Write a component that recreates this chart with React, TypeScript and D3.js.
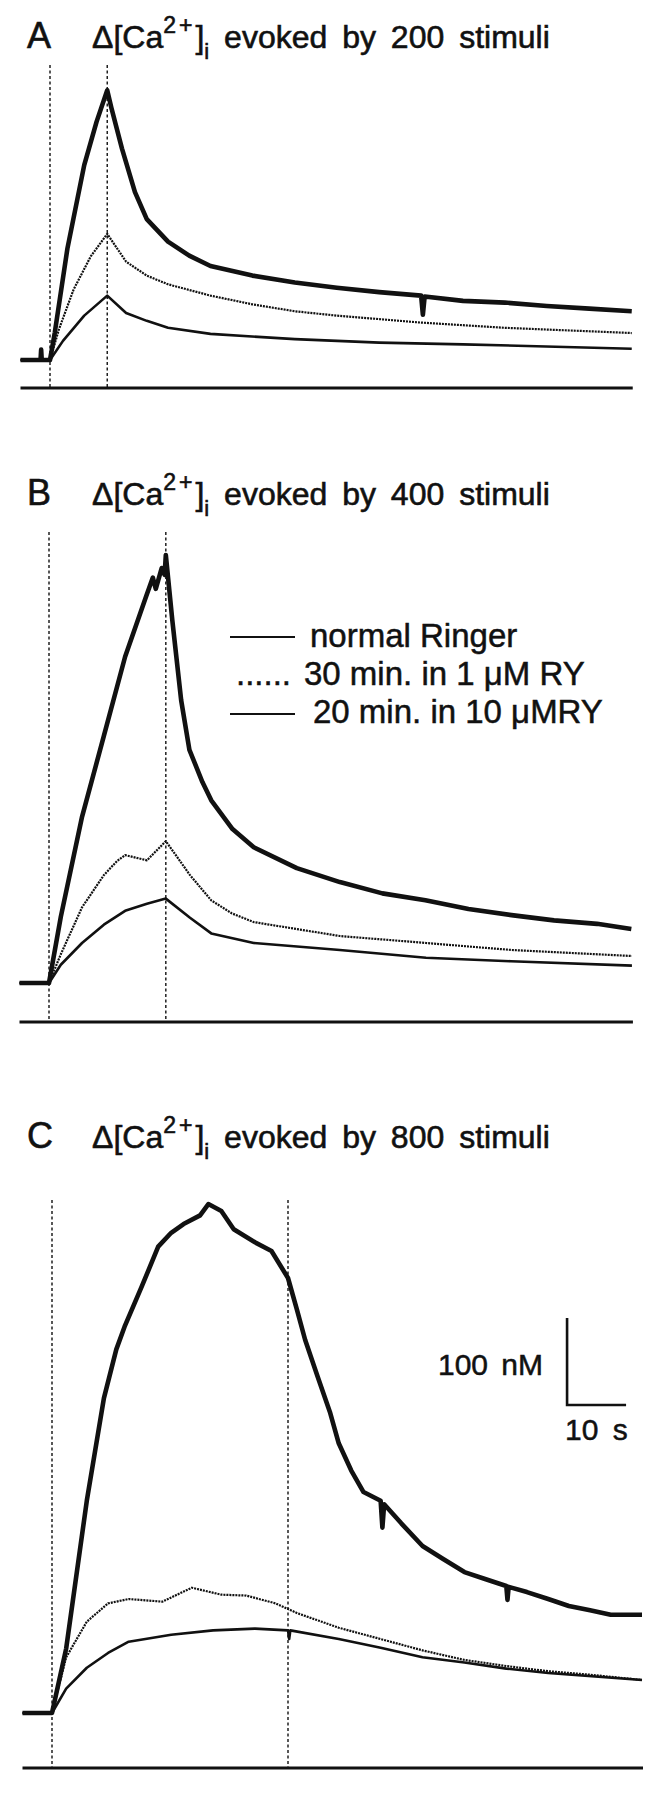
import React from 'react';
import * as d3 from 'd3';

// time (s after stimulus onset), Δ[Ca2+]i (nM)
const normalA: [number, number][] = [[-5, 0], [-1.6, 0], [-1.5, 12], [-1.4, 0], [0, 0], [0.8, 31], [2.95, 128], [5.8, 224], [7.9, 274], [9.7, 310], [10.4, 290], [12.2, 243], [14.4, 193], [16.4, 162], [20, 136], [23.6, 120], [27.2, 108], [34.3, 97], [41.5, 89], [48.6, 83], [55.8, 78], [62.9, 74], [63.2, 52], [63.5, 73], [70, 68], [77.1, 66], [84.2, 62], [91.4, 59], [98.6, 56]];
const ry1A: [number, number][] = [[-5, 0], [0, 0], [1.5, 35], [4, 81], [6.9, 119], [9.7, 145], [12.9, 113], [16.4, 97], [20, 87], [27.2, 74], [34.3, 64], [41.5, 56], [48.6, 51], [55.8, 47], [62.9, 43], [77.1, 37], [98.6, 31]];
const ry10A: [number, number][] = [[-5, 0], [0, 0], [2.2, 22], [5.8, 51], [9.7, 74], [12.9, 54], [16.4, 45], [20, 37], [27.2, 30], [41.5, 24], [55.8, 20], [70, 18], [98.6, 13]];

const normalB: [number, number][] = [[-5, 0], [0, 0], [2, 76], [5.6, 191], [9.3, 284], [12.9, 375], [16.5, 445], [17.6, 466], [18.1, 453], [19.1, 477], [19.6, 469], [19.8, 492], [20.9, 417], [22.4, 325], [23.8, 268], [26, 231], [27.5, 210], [31.1, 177], [34.7, 156], [42, 132], [49.3, 116], [56.5, 103], [63.8, 95], [71.1, 85], [78.4, 78], [85.6, 72], [92.9, 68], [98.7, 62]];
const ry1B: [number, number][] = [[-5, 0], [0, 0], [2, 33], [5.6, 87], [9.3, 124], [11.5, 140], [12.9, 147], [16.6, 141], [19.8, 163], [21.7, 145], [23.9, 124], [27.5, 95], [31, 80], [34.7, 70], [42, 62], [49.3, 54], [63.9, 46], [78.3, 38], [98.8, 31]];
const ry10B: [number, number][] = [[-5, 0], [0, 0], [2, 21], [5.6, 46], [9.3, 67], [12.9, 83], [16.6, 91], [19.8, 97], [23.9, 75], [27.5, 57], [34.7, 46], [49.3, 38], [63.9, 29], [78.3, 25], [98.8, 20]];

const normalC: [number, number][] = [[-5, 0], [0, 0], [2.4, 74], [5.9, 244], [8.8, 362], [10.9, 418], [12.3, 444], [15.2, 490], [18, 536], [20.2, 552], [22.3, 562], [25.1, 572], [26.5, 585], [28.7, 577], [30.8, 556], [34.4, 541], [37.2, 531], [40, 500], [41.5, 464], [42.9, 429], [45, 387], [47.1, 346], [48.6, 310], [50.7, 279], [52.8, 254], [55.7, 244], [56, 213], [56.3, 240], [59.2, 218], [62.8, 192], [66.3, 177], [69.9, 162], [73.4, 154], [77, 146], [77.2, 130], [77.4, 145], [80.5, 139], [84.1, 131], [87.6, 123], [91.2, 118], [94.7, 113], [100, 113]];
const ry1C: [number, number][] = [[-5, 0], [0, 0], [2.4, 64], [5.9, 105], [9.5, 126], [13, 131], [18.7, 128], [23.7, 144], [28.7, 136], [32.9, 135], [37.9, 126], [41.5, 115], [48.6, 98], [55.7, 85], [62.8, 72], [69.9, 61], [77, 54], [84.1, 48], [91.2, 44], [100, 38]];
const ry10C: [number, number][] = [[-5, 0], [0, 0], [2.4, 28], [5.9, 52], [9.5, 69], [13, 82], [20.2, 90], [27.3, 95], [34.4, 97], [40, 95], [40.2, 85], [40.4, 95], [48.6, 85], [55.7, 75], [62.8, 64], [69.9, 58], [77, 51], [84.1, 46], [100, 38]];

const panelLetters = ['A', 'B', 'C'];
const stimuliCounts = [200, 400, 800];
const stimEnds = [9.7, 19.8, 40]; // s, end of stimulus train
const traceEnds = [98.6, 98.8, 100];

const legendLabels = ['normal Ringer', '30 min. in 1 \u03bcM RY', '20 min. in 10 \u03bcMRY'];
const scaleBarNM = 100;
const scaleBarS = 10;

const FONT = '"Liberation Sans", Arial, Helvetica, sans-serif';
const INK = '#111';
const PX_PER_S = 5.9;
const PX_PER_NM = 0.87;

// layout for each panel (pixel position of t=0 / Δ=0, bottom rule, dashed top, title baseline)
const panels = [
  { x0: 50, y0: 360, bottom: 388, dashTop: 65, titleY: 48, traces: [normalA, ry1A, ry10A] },
  { x0: 49, y0: 983, bottom: 1022, dashTop: 532, titleY: 505, traces: [normalB, ry1B, ry10B] },
  { x0: 52, y0: 1713, bottom: 1768, dashTop: 1200, titleY: 1148, traces: [normalC, ry1C, ry10C] },
];

const traceStyles = [
  { width: 4.6, dash: undefined },
  { width: 2.2, dash: '2 1' },
  { width: 2.6, dash: undefined },
];

function Title({ y, letter, n }: { y: number; letter: string; n: number }) {
  return (
    <g fontFamily={FONT} fill={INK} stroke={INK} strokeWidth={0.6}>
      <text x={27} y={y} fontSize={36}>{letter}</text>
      <text x={92} y={y} fontSize={32}>
        Δ[Ca
        <tspan dy={-15} fontSize={23} letterSpacing={3}>2+</tspan>
        <tspan dy={15} fontSize={32}>]</tspan>
        <tspan dy={11} fontSize={22}>i</tspan>
        <tspan dy={-11} fontSize={32} wordSpacing={6}>{` evoked by ${n} stimuli`}</tspan>
      </text>
    </g>
  );
}

function Panel({ idx }: { idx: number }) {
  const p = panels[idx];
  const x = d3.scaleLinear().domain([0, 10]).range([p.x0, p.x0 + 10 * PX_PER_S]);
  const y = d3.scaleLinear().domain([0, 100]).range([p.y0, p.y0 - 100 * PX_PER_NM]);
  const line = d3.line<[number, number]>().x(d => x(d[0])).y(d => y(d[1]));

  return (
    <g>
      <Title y={p.titleY} letter={panelLetters[idx]} n={stimuliCounts[idx]} />
      {[0, stimEnds[idx]].map((t, i) => (
        <line key={i} x1={x(t)} x2={x(t)} y1={p.dashTop} y2={p.bottom}
          stroke={INK} strokeWidth={1.4} strokeDasharray="3 2.5" />
      ))}
      {p.traces.map((tr, i) => (
        <path key={i} d={line(tr) || ''} fill="none" stroke={INK}
          strokeWidth={traceStyles[i].width} strokeDasharray={traceStyles[i].dash}
          strokeLinejoin="round" />
      ))}
      <line x1={x(-5)} x2={x(traceEnds[idx]) + 1} y1={p.bottom} y2={p.bottom} stroke={INK} strokeWidth={2.8} />
    </g>
  );
}

function Legend() {
  return (
    <g fontFamily={FONT} fill={INK} fontSize={33} stroke={INK} strokeWidth={0.5}>
      <line x1={230} x2={295} y1={637} y2={637} stroke={INK} strokeWidth={2} />
      <text x={310} y={647}>{legendLabels[0]}</text>
      <text x={236} y={685}>......</text>
      <text x={304} y={685}>{legendLabels[1]}</text>
      <line x1={230} x2={295} y1={714} y2={714} stroke={INK} strokeWidth={2} />
      <text x={313} y={723}>{legendLabels[2]}</text>
    </g>
  );
}

function ScaleBar() {
  const p = panels[2];
  const x = d3.scaleLinear().domain([0, 10]).range([p.x0, p.x0 + 10 * PX_PER_S]);
  const y = d3.scaleLinear().domain([0, 100]).range([p.y0, p.y0 - 100 * PX_PER_NM]);
  const t0 = 87.3;
  const v0 = 354;
  return (
    <g fontFamily={FONT} fill={INK} fontSize={30}>
      <path d={`M${x(t0)},${y(v0 + scaleBarNM)}V${y(v0)}H${x(t0 + scaleBarS)}`}
        fill="none" stroke={INK} strokeWidth={2.6} />
      <g stroke={INK} strokeWidth={0.5}>
        <text x={x(t0) - 24} y={1375} textAnchor="end" wordSpacing={5}>{`${scaleBarNM} nM`}</text>
        <text x={x(t0) - 2} y={1440} wordSpacing={6}>{`${scaleBarS} s`}</text>
      </g>
    </g>
  );
}

export default function App() {
  return (
    <div style={{ position: 'absolute', left: 0, top: 0 }}>
      <svg width={659} height={1800} style={{ display: 'block', background: '#fff' }}>
        {panels.map((_, i) => <Panel key={i} idx={i} />)}
        <Legend />
        <ScaleBar />
      </svg>
    </div>
  );
}
